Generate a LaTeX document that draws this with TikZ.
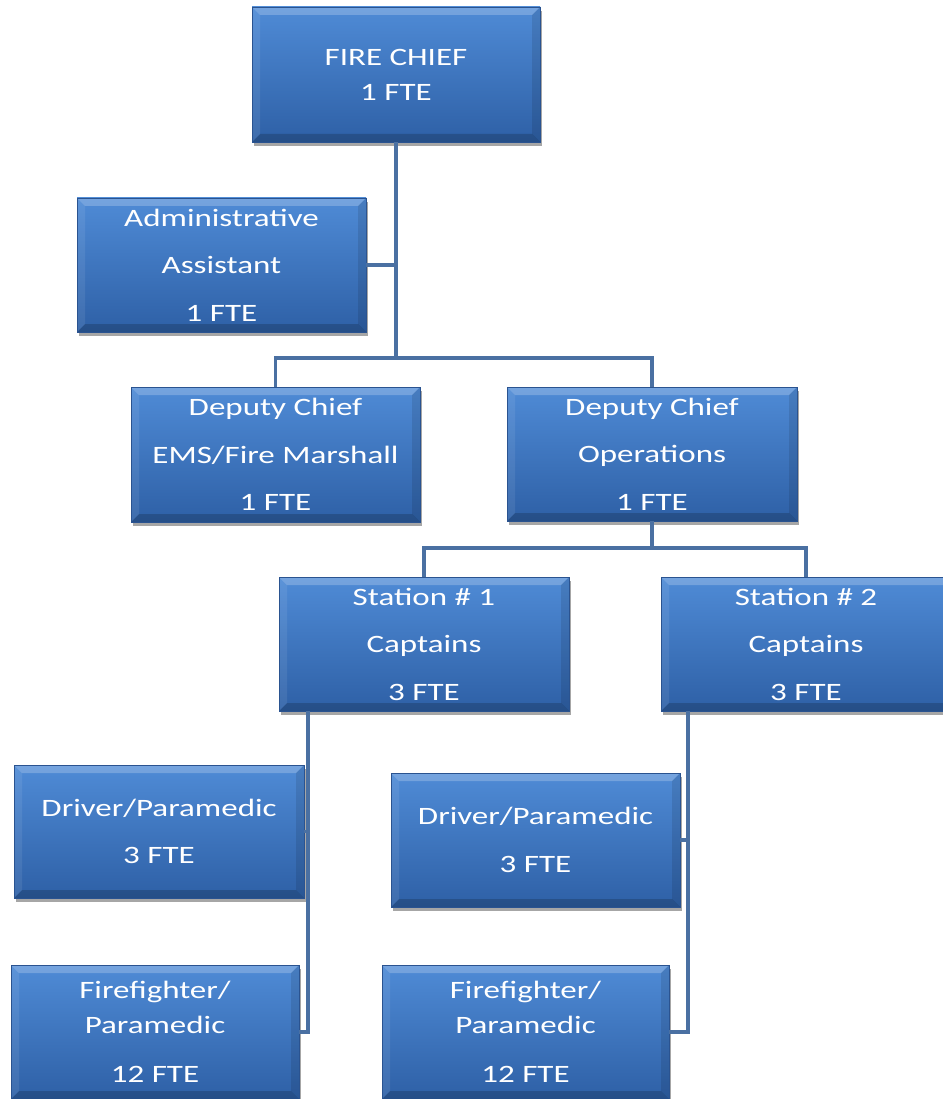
\documentclass[tikz,border=0pt]{standalone}
\usepackage{fontspec}
\setmainfont{Carlito}[FakeStretch=1.32]
\usetikzlibrary{shadows}
\definecolor{boxtop}{HTML}{4F8BD6}
\definecolor{boxbot}{HTML}{2E60A6}
\definecolor{boxedge}{HTML}{2A5390}
\definecolor{linkcol}{HTML}{4A70A2}
\tikzset{
  orgbox/.style={draw=boxedge, line width=0.8pt, top color=boxtop, bottom color=boxbot,
    minimum width=289pt, minimum height=134pt, inner sep=0pt, align=center, text=white,
    font=\fontsize{25}{47.5}\selectfont,
    drop shadow={shadow xshift=1.5pt, shadow yshift=-4pt, opacity=0.35, fill=black},
    path picture={
      \fill[white, opacity=0.22] (path picture bounding box.north west) -- (path picture bounding box.north east)
        -- ([xshift=-8pt,yshift=-8pt]path picture bounding box.north east) -- ([xshift=8pt,yshift=-8pt]path picture bounding box.north west) -- cycle;
      \fill[black, opacity=0.18] (path picture bounding box.south west) -- (path picture bounding box.south east)
        -- ([xshift=-8pt,yshift=8pt]path picture bounding box.south east) -- ([xshift=8pt,yshift=8pt]path picture bounding box.south west) -- cycle;
      \fill[black, opacity=0.10] (path picture bounding box.north east) -- (path picture bounding box.south east)
        -- ([xshift=-8pt,yshift=8pt]path picture bounding box.south east) -- ([xshift=-8pt,yshift=-8pt]path picture bounding box.north east) -- cycle;
      \fill[white, opacity=0.08] (path picture bounding box.north west) -- (path picture bounding box.south west)
        -- ([xshift=8pt,yshift=8pt]path picture bounding box.south west) -- ([xshift=8pt,yshift=-8pt]path picture bounding box.north west) -- cycle;
    }},
  link/.style={draw=linkcol, line width=3.5pt}
}
\begin{document}
\begin{tikzpicture}[x=1pt, y=-1pt]
\useasboundingbox (0,0) rectangle (942,1099);
\node[orgbox, minimum width=288pt, minimum height=135pt, font=\fontsize{25}{35}\selectfont] (chief) at (396,74.5) {FIRE CHIEF\\1 FTE};
\node[orgbox] (admin) at (221.5,265) {Administrative\\Assistant\\1 FTE};
\node[orgbox, minimum height=135pt] (ems) at (275.5,454.5) {Deputy Chief\\EMS/Fire Marshall\\1 FTE};
\node[orgbox, minimum width=290pt] (ops) at (652,454) {Deputy Chief\\Operations\\1 FTE};
\node[orgbox, minimum width=290pt] (st1) at (424,644) {Station \# 1\\Captains\\3 FTE};
\node[orgbox, minimum width=290pt] (st2) at (806,644) {Station \# 2\\Captains\\3 FTE};
\node[orgbox, minimum width=290pt, minimum height=133pt] (drv1) at (159,831.5) {Driver/Paramedic\\3 FTE};
\node[orgbox] (drv2) at (535.5,840) {Driver/Paramedic\\3 FTE};
\node[orgbox, minimum width=288pt, font=\fontsize{25}{35}\selectfont] (ff1) at (155,1032) {Firefighter/\\Paramedic\\[14pt]12 FTE};
\node[orgbox, minimum width=287pt, font=\fontsize{25}{35}\selectfont] (ff2) at (525.5,1032) {Firefighter/\\Paramedic\\[14pt]12 FTE};
\coordinate (j1) at (396,358);
\coordinate (j2) at (652,548);
\coordinate (b1) at (308,1032);
\coordinate (b2) at (688,1032);
\path[link] (chief.south) -- (j1);
\path[link] (admin.east) -- (admin.east -| j1);
\path[link] (ems.north) |- (j1) -| (ops.north);
\path[link] (ops.south) -- (j2);
\path[link] (st1.north) |- (j2) -| (st2.north);
\path[link] (st1.south -| b1) -- (b1) -- (ff1.east);
\path[link] (drv1.east) -- (drv1.east -| b1);
\path[link] (st2.south -| b2) -- (b2) -- (ff2.east);
\path[link] (drv2.east) -- (drv2.east -| b2);
\end{tikzpicture}
\end{document}
